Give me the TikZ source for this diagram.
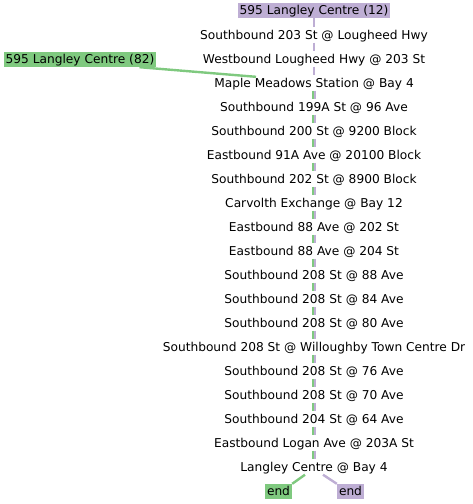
\documentclass[tikz,border=0pt]{standalone}
\usepackage{fontspec}
\setmainfont{DejaVu Sans}
\definecolor{routegreen}{HTML}{7FC97F}
\definecolor{routepurple}{HTML}{BEAED4}
\tikzset{x=1pt, y=-1pt,
every node/.style={ % Sets the properties for each stop
font=\fontsize{12.2}{14}\selectfont,
text height=10pt, text depth=2pt,
inner xsep=2pt, inner ysep=1.5pt},
greenlabel/.style={fill=routegreen}, % Route start/end boxes
purplelabel/.style={fill=routepurple},
every edge/.style={ % Sets the properties for each leg
draw,
line width=2.4pt},
gline/.style={routegreen},
pline/.style={routepurple}}
\begin{document}
\begin{tikzpicture}
\useasboundingbox (0,0) rectangle (472,504);
\node[purplelabel] (p12) at (314,10.5) {595 Langley Centre (12)};
\node[greenlabel] (g82) at (80,59.5) {595 Langley Centre (82)};
\node (s2) at (314,35) {Southbound 203 St @ Lougheed Hwy};
\node (s3) at (314,59) {Westbound Lougheed Hwy @ 203 St};
\node (s4) at (314,83) {Maple Meadows Station @ Bay 4};
\node (s5) at (314,107) {Southbound 199A St @ 96 Ave};
\node (s6) at (314,131) {Southbound 200 St @ 9200 Block};
\node (s7) at (314,155) {Eastbound 91A Ave @ 20100 Block};
\node (s8) at (314,179) {Southbound 202 St @ 8900 Block};
\node (s9) at (314,203) {Carvolth Exchange @ Bay 12};
\node (s10) at (314,227) {Eastbound 88 Ave @ 202 St};
\node (s11) at (314,251) {Eastbound 88 Ave @ 204 St};
\node (s12) at (314,275) {Southbound 208 St @ 88 Ave};
\node (s13) at (314,299) {Southbound 208 St @ 84 Ave};
\node (s14) at (314,323) {Southbound 208 St @ 80 Ave};
\node (s15) at (314,347) {Southbound 208 St @ Willoughby Town Centre Dr};
\node (s16) at (314,371) {Southbound 208 St @ 76 Ave};
\node (s17) at (314,395) {Southbound 208 St @ 70 Ave};
\node (s18) at (314,419) {Southbound 204 St @ 64 Ave};
\node (s19) at (314,443) {Eastbound Logan Ave @ 203A St};
\node (s20) at (314,467) {Langley Centre @ Bay 4};
\node[greenlabel] (endg) at (278.5,491.5) {end};
\node[purplelabel] (endp) at (350.5,491.5) {end};
% route 12
\draw (p12) edge[pline] (s2);
\draw (s2) edge[pline] (s3);
\draw (s3) edge[pline] (s4);
\draw ([xshift=1.2pt]s4.south) edge[pline] ([xshift=1.2pt]s5.north);
\draw ([xshift=1.2pt]s5.south) edge[pline] ([xshift=1.2pt]s6.north);
\draw ([xshift=1.2pt]s6.south) edge[pline] ([xshift=1.2pt]s7.north);
\draw ([xshift=1.2pt]s7.south) edge[pline] ([xshift=1.2pt]s8.north);
\draw ([xshift=1.2pt]s8.south) edge[pline] ([xshift=1.2pt]s9.north);
\draw ([xshift=1.2pt]s9.south) edge[pline] ([xshift=1.2pt]s10.north);
\draw ([xshift=1.2pt]s10.south) edge[pline] ([xshift=1.2pt]s11.north);
\draw ([xshift=1.2pt]s11.south) edge[pline] ([xshift=1.2pt]s12.north);
\draw ([xshift=1.2pt]s12.south) edge[pline] ([xshift=1.2pt]s13.north);
\draw ([xshift=1.2pt]s13.south) edge[pline] ([xshift=1.2pt]s14.north);
\draw ([xshift=1.2pt]s14.south) edge[pline] ([xshift=1.2pt]s15.north);
\draw ([xshift=1.2pt]s15.south) edge[pline] ([xshift=1.2pt]s16.north);
\draw ([xshift=1.2pt]s16.south) edge[pline] ([xshift=1.2pt]s17.north);
\draw ([xshift=1.2pt]s17.south) edge[pline] ([xshift=1.2pt]s18.north);
\draw ([xshift=1.2pt]s18.south) edge[pline] ([xshift=1.2pt]s19.north);
\draw ([xshift=1.2pt]s19.south) edge[pline] ([xshift=1.2pt]s20.north);
\draw ([xshift=9pt]s20.south) edge[pline] (endp.north west);
% route 82
\draw ([xshift=-17pt]g82.south east) edge[gline] ([xshift=-58pt,yshift=-1.5pt]s4.north);
\draw ([xshift=-1.2pt]s4.south) edge[gline] ([xshift=-1.2pt]s5.north);
\draw ([xshift=-1.2pt]s5.south) edge[gline] ([xshift=-1.2pt]s6.north);
\draw ([xshift=-1.2pt]s6.south) edge[gline] ([xshift=-1.2pt]s7.north);
\draw ([xshift=-1.2pt]s7.south) edge[gline] ([xshift=-1.2pt]s8.north);
\draw ([xshift=-1.2pt]s8.south) edge[gline] ([xshift=-1.2pt]s9.north);
\draw ([xshift=-1.2pt]s9.south) edge[gline] ([xshift=-1.2pt]s10.north);
\draw ([xshift=-1.2pt]s10.south) edge[gline] ([xshift=-1.2pt]s11.north);
\draw ([xshift=-1.2pt]s11.south) edge[gline] ([xshift=-1.2pt]s12.north);
\draw ([xshift=-1.2pt]s12.south) edge[gline] ([xshift=-1.2pt]s13.north);
\draw ([xshift=-1.2pt]s13.south) edge[gline] ([xshift=-1.2pt]s14.north);
\draw ([xshift=-1.2pt]s14.south) edge[gline] ([xshift=-1.2pt]s15.north);
\draw ([xshift=-1.2pt]s15.south) edge[gline] ([xshift=-1.2pt]s16.north);
\draw ([xshift=-1.2pt]s16.south) edge[gline] ([xshift=-1.2pt]s17.north);
\draw ([xshift=-1.2pt]s17.south) edge[gline] ([xshift=-1.2pt]s18.north);
\draw ([xshift=-1.2pt]s18.south) edge[gline] ([xshift=-1.2pt]s19.north);
\draw ([xshift=-1.2pt]s19.south) edge[gline] ([xshift=-1.2pt]s20.north);
\draw ([xshift=-9pt]s20.south) edge[gline] (endg.north east);
\end{tikzpicture}
\end{document}
